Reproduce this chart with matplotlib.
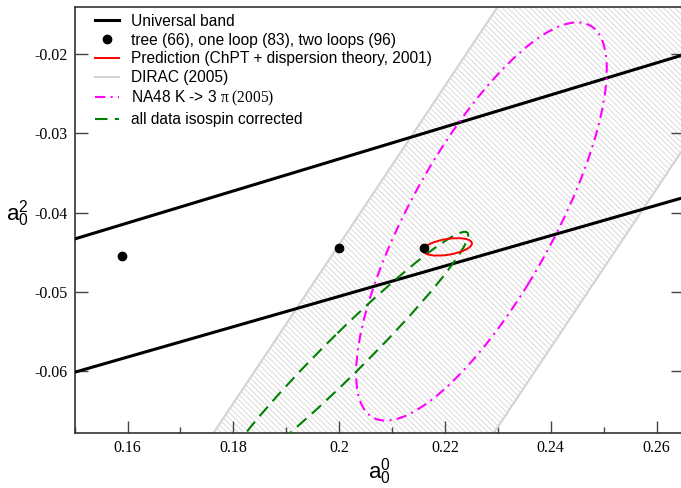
import matplotlib
matplotlib.use("Agg")
import matplotlib.pyplot as plt
import numpy as np
from matplotlib.patches import Ellipse
from matplotlib.lines import Line2D
from matplotlib.ticker import MultipleLocator, FuncFormatter

plt.rcParams['font.family'] = 'Liberation Sans'
plt.rcParams['mathtext.fontset'] = 'custom'
plt.rcParams['mathtext.rm'] = 'Liberation Serif'
plt.rcParams['mathtext.sf'] = 'Liberation Sans'
plt.rcParams['mathtext.it'] = 'Liberation Serif:italic'
plt.rcParams['hatch.linewidth'] = 0.5
plt.rcParams['axes.unicode_minus'] = False

# universal band edges, a2 at both ends of the a0 range
band_a0 = [0.15, 0.265]
band_upper = [-0.0433, -0.0201]
band_lower = [-0.0601, -0.0381]

# ChPT: tree, one loop, two loops
chpt_a0 = [0.159, 0.200, 0.216]
chpt_a2 = [-0.0454, -0.0445, -0.0445]

# DIRAC |a0 - a2| range
dirac_lo = 0.244
dirac_hi = 0.297

# ellipses: a0, a2, sigma a0, sigma a2, correlation
cgl = [0.2205, -0.0443, 0.0046, 0.0011, 0.40]
na48 = [0.2269, -0.0411, 0.0237, 0.0251, 0.764]
isospin = [0.2010, -0.0579, 0.0234, 0.0155, 0.973]


def ellipse(ax, p, **kw):
    a0, a2, s0, s2, rho = p
    cov = np.array([[s0**2, rho*s0*s2], [rho*s0*s2, s2**2]])
    vals, vecs = np.linalg.eigh(cov)
    angle = np.degrees(np.arctan2(vecs[1, 1], vecs[0, 1]))
    e = Ellipse((a0, a2), 2*np.sqrt(vals[1]), 2*np.sqrt(vals[0]), angle=angle,
                fill=False, **kw)
    ax.add_patch(e)


fig = plt.figure(figsize=(6.81, 4.88), dpi=100)
ax = fig.add_axes([0.1097, 0.1121, 0.8932, 0.8729])

# DIRAC band
a2_fill = np.array([-0.075, -0.005])
ax.fill_betweenx(a2_fill, a2_fill + dirac_lo, a2_fill + dirac_hi, facecolor='none',
                 edgecolor='#cccccc', hatch='\\' * 6, linewidth=0, zorder=1)
ax.plot(a2_fill + dirac_lo, a2_fill, color='#d3d3d3', lw=1.5, zorder=2)
ax.plot(a2_fill + dirac_hi, a2_fill, color='#d3d3d3', lw=1.5, zorder=2)

# universal band
ax.plot(band_a0, band_upper, color='black', lw=2.2, zorder=3)
ax.plot(band_a0, band_lower, color='black', lw=2.2, zorder=3)

na48_ls = (0, (5, 2.5, 1, 2.5))
iso_ls = (0, (6, 3.5))
ellipse(ax, na48, edgecolor='#ff00ff', lw=1.5, linestyle=na48_ls, zorder=4)
ellipse(ax, isospin, edgecolor='#008000', lw=1.5, linestyle=iso_ls, zorder=4)
ellipse(ax, cgl, edgecolor='red', lw=1.4, zorder=5)

ax.plot(chpt_a0, chpt_a2, 'o', color='black', ms=6, zorder=6)

handles = [
    Line2D([], [], color='black', lw=2.2),
    Line2D([], [], color='black', marker='o', ms=6, ls='none'),
    Line2D([], [], color='red', lw=1.4),
    Line2D([], [], color='#d3d3d3', lw=1.5),
    Line2D([], [], color='#ff00ff', lw=1.5, ls=na48_ls),
    Line2D([], [], color='#008000', lw=1.5, ls=iso_ls),
]
labels = [
    'Universal band',
    'tree (66), one loop (83), two loops (96)',
    'Prediction (ChPT + dispersion theory, 2001)',
    'DIRAC (2005)',
    r'NA48 K -> 3 $\mathrm{\pi\ (2005)}$',
    'all data isospin corrected',
]
ax.legend(handles, labels, loc='upper left', bbox_to_anchor=(0.033, 0.985),
          frameon=False, fontsize=11.2, borderpad=0, borderaxespad=0,
          handlelength=1.55, handletextpad=0.8, labelspacing=0.25, numpoints=1)

ax.set_xlim(0.15, 0.265)
ax.set_ylim(-0.0678, -0.0141)
ax.xaxis.set_major_locator(MultipleLocator(0.02))
ax.xaxis.set_minor_locator(MultipleLocator(0.01))
ax.yaxis.set_major_locator(MultipleLocator(0.01))
fmt = FuncFormatter(lambda v, p: '%g' % round(v, 4))
ax.xaxis.set_major_formatter(fmt)
ax.yaxis.set_major_formatter(fmt)
ax.tick_params(which='both', direction='in', color='#444444', width=1.0)
ax.tick_params(which='major', length=9, pad=5)
ax.tick_params(which='minor', length=4.5)
ax.tick_params(axis='y', right=True)
for lab in ax.get_xticklabels() + ax.get_yticklabels():
    lab.set_fontfamily('Liberation Serif')
    lab.set_fontsize(11.5)
for s in ax.spines.values():
    s.set_color('#333333')
    s.set_linewidth(1.2)

ax.set_xlabel(r'$\mathsf{a}_{\mathsf{0}}^{\mathsf{0}}$', fontsize=16, va='center')
ax.xaxis.set_label_coords(0.5, -0.09)
ax.set_ylabel(r'$\mathsf{a}_{\mathsf{0}}^{\mathsf{2}}$', fontsize=16, rotation=0,
              ha='center', va='center')
ax.yaxis.set_label_coords(-0.095, 0.515)

fig.savefig('out.png', dpi=100)
